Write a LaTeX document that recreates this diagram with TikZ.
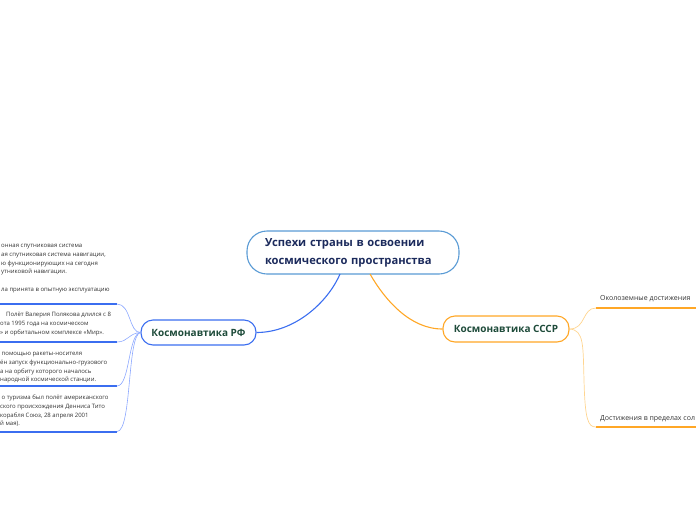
\documentclass[tikz,border=0pt]{standalone}
\usepackage{fontspec}
\setmainfont{Open Sans}
\definecolor{navy}{HTML}{1B2A5C}
\definecolor{dgreen}{HTML}{1E4B3A}
\definecolor{cblue}{HTML}{5A9BD5}
\definecolor{rblue}{HTML}{3B6EF0}
\definecolor{lblue}{HTML}{8CA8FF}
\definecolor{org}{HTML}{FFA726}
\definecolor{lorg}{HTML}{FFD590}
\definecolor{txt}{HTML}{333333}
\newcommand{\fst}{\rule{0pt}{5pt}}
\begin{document}
\begin{tikzpicture}[x=1pt,y=-1pt,
  central/.style={draw=cblue,line width=1.1pt,fill=white,rounded corners=20pt,
    minimum width=212pt,minimum height=43pt,text width=182pt,inner xsep=15pt,align=left,
    font=\fontsize{11.2}{18}\selectfont\bfseries,text=navy},
  mainbox/.style={line width=1.1pt,fill=white,rounded corners=12pt,
    minimum height=25pt,font=\fontsize{10}{12}\selectfont\bfseries,text=dgreen},
  leaf/.style={anchor=north west,align=left,inner sep=0pt,text=txt,
    font=\fontsize{6}{8.7}\selectfont},
  rleaf/.style={anchor=base west,inner sep=0pt,text=txt,font=\fontsize{7}{9}\selectfont},
  bline/.style={draw=rblue,line width=1.1pt},
  oline/.style={draw=org,line width=1.1pt},
  bunder/.style={draw=rblue,line width=2pt},
  ounder/.style={draw=org,line width=2pt},
  bthin/.style={draw=lblue,line width=0.6pt},
  othin/.style={draw=lorg,line width=0.7pt}]
\useasboundingbox (0,0) rectangle (696,520);
\clip (0,0) rectangle (696,520);

% main nodes
\node[central] (c) at (353,252.5) {\hspace*{3pt}Успехи страны в освоении\\\hspace*{3pt}космического пространства};
\node[mainbox,draw=rblue,minimum width=115pt] (rf) at (198.5,332.5) {Космонавтика РФ};
\node[mainbox,draw=org,minimum width=126pt,minimum height=26pt] (ss) at (506,329) {Космонавтика СССР};

% central connectors
\coordinate (cb) at (340,274);
\coordinate (co) at (370,274);
\draw[bline] (cb) .. controls (328,302) and (295,332.5) .. (rf.east);
\draw[oline] (co) .. controls (385,300) and (410,329) .. (ss.west);

% right side
\node[rleaf] (t1) at (600,300.5) {Околоземные достижения};
\node[rleaf] (t2) at (600,420.5) {Достижения в пределах сол};
\coordinate (u1a) at (596,308); \coordinate (u1b) at (696,308);
\coordinate (u2a) at (596,427); \coordinate (u2b) at (696,427);
\draw[ounder] (u1a) -- (u1b);
\draw[ounder] (u2a) -- (u2b);
\draw[othin] (ss.east) .. controls (586,329) and (582,308) .. (u1a);
\draw[othin] (ss.east) .. controls (584,330) and (583,345) .. (584,380)
   .. controls (585,420) and (588,427) .. (u2a);

% left side leaves (north = first baseline - 5pt)
\node[leaf] (l1) at (1,242.5) {\fst онная спутниковая система\\ая спутниковая система навигации,\\ю функционирующих на сегодня\\утниковой навигации.\\[8.7pt]ла принята в опытную эксплуатацию};
\node[leaf] (l2) at (0,311.5) {\fst\hspace*{6pt}Полёт Валерия Полякова длился с 8\\ота 1995 года на космическом\\» и орбитальном комплексе «Мир».};
\node[leaf] (l3) at (1.5,350.5) {\fst помощью ракеты-носителя\\\hspace*{-1.5pt}ён запуск функционально-грузового\\\hspace*{-1.5pt}а на орбиту которого началось\\\hspace*{-1.5pt}народной космической станции.};
\node[leaf] (l4) at (1.5,394.5) {\fst о туризма был полёт американского\\\hspace*{-1.5pt}ского происхождения Денниса Тито\\\hspace*{-1.5pt}корабля Союз, 28 апреля 2001\\\hspace*{-1.5pt}й мая).};

\coordinate (b1a) at (0,304); \coordinate (b1b) at (117,304);
\coordinate (b2a) at (0,342); \coordinate (b2b) at (117,342);
\coordinate (b3a) at (0,386); \coordinate (b3b) at (117,386);
\coordinate (b4a) at (0,431.5); \coordinate (b4b) at (117,431.5);
\draw[bunder] (b1a) -- (b1b);
\draw[bunder] (b2a) -- (b2b);
\draw[bunder] (b3a) -- (b3b);
\draw[bunder] (b4a) -- (b4b);
\draw[bthin] (rf.west) .. controls (129,333) and (131,304) .. (b1b);
\draw[bthin] (rf.west) .. controls (129,333) and (128,342) .. (b2b);
\draw[bthin] (rf.west) .. controls (128,334) and (130,386) .. (b3b);
\draw[bthin] (rf.west) .. controls (127,335) and (132,431.5) .. (b4b);
\end{tikzpicture}
\end{document}
